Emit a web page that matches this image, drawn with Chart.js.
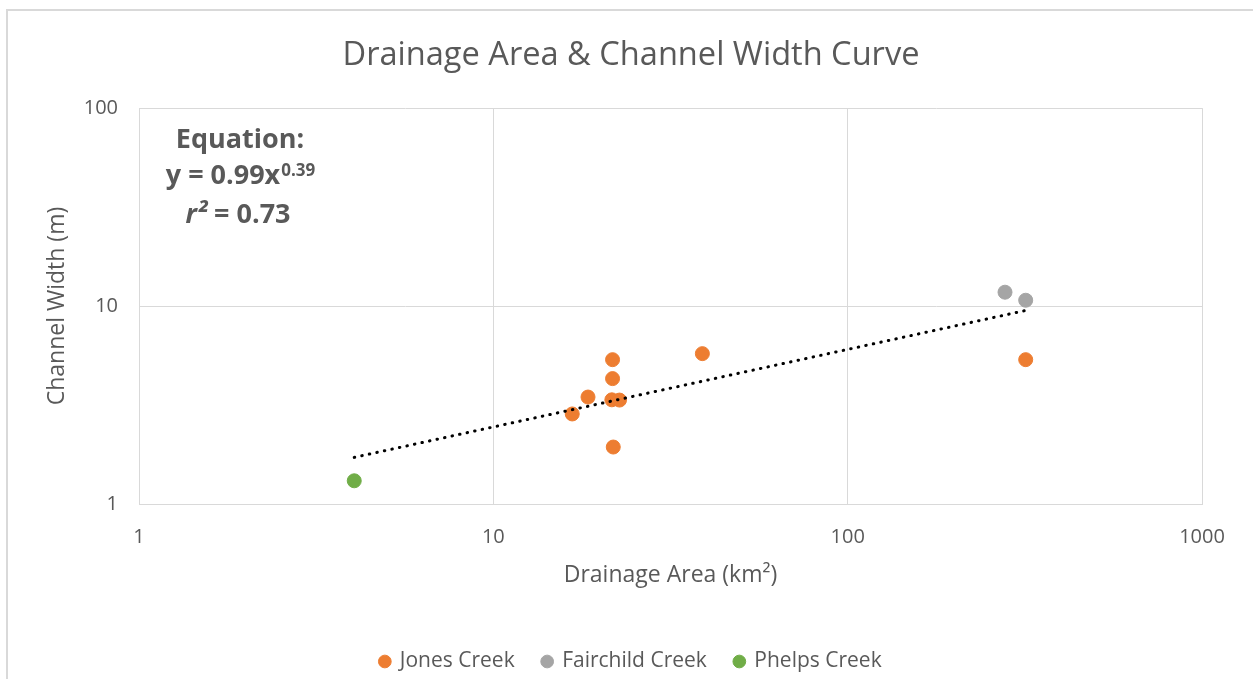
<!DOCTYPE html>
<html>
<head>
<meta charset="utf-8">
<title>Drainage Area & Channel Width Curve</title>
<script src="https://cdn.jsdelivr.net/npm/chart.js@4.4.1/dist/chart.umd.min.js"></script>
<style>
    html, body { margin: 0; padding: 0; background: #fff; overflow: hidden; }
    #frame {
        position: absolute; left: 6px; top: 9px;
        width: 1300px; height: 720px;
        border-top: 2px solid #d9d9d9; border-left: 2px solid #d9d9d9;
    }
    #chart { position: absolute; left: 0; top: 0; }
</style>
</head>
<body>
<div id="frame"></div>
<canvas id="chart" width="1253" height="679"></canvas>
<script>
// drainage area (km²) and channel width (m) per site
const jonesArea = [16.7, 18.5, 21.7, 21.7, 21.6, 22.7, 21.8, 38.9, 318];
const jonesWidth = [2.85, 3.47, 5.36, 4.30, 3.36, 3.35, 1.94, 5.75, 5.36];
const fairchildArea = [278, 318];
const fairchildWidth = [11.75, 10.7];
const phelpsArea = [4.05];
const phelpsWidth = [1.31];

// power trendline end points
const trendArea = [4.05, 318];
const trendWidth = [1.72, 9.5];

const xTicks = [1, 10, 100, 1000];
const yTicks = [1, 10, 100];

const FONT = "'Open Sans', sans-serif";
const TEXT = '#595959';
const GRID = '#d9d9d9';

const toPoints = (xs, ys) => xs.map((x, i) => ({ x, y: ys[i] }));

// equation box in the upper left of the plot
const equationLabel = {
    id: 'equationLabel',
    afterDraw(chart) {
        const ctx = chart.ctx;
        const cx = 240;
        const big = `bold 27px ${FONT}`;
        const small = `bold 17px ${FONT}`;
        ctx.save();
        ctx.fillStyle = TEXT;
        ctx.textBaseline = 'alphabetic';
        ctx.font = big;
        ctx.textAlign = 'center';
        ctx.fillText('Equation:', cx, 148);

        // y = 0.99x^0.39
        const base = 'y = 0.99x';
        const sup = '0.39';
        ctx.font = big;
        const wBase = ctx.measureText(base).width;
        ctx.font = small;
        const wSup = ctx.measureText(sup).width;
        let x = cx - (wBase + wSup) / 2;
        ctx.textAlign = 'left';
        ctx.font = big;
        ctx.fillText(base, x, 184);
        ctx.font = small;
        ctx.fillText(sup, x + wBase + 1, 176);

        // r² = 0.73
        ctx.font = `italic ${big}`;
        const wr = ctx.measureText('r²').width;
        ctx.font = big;
        const wRest = ctx.measureText(' = 0.73').width;
        x = cx - (wr + wRest) / 2 - 2;
        ctx.font = `italic ${big}`;
        ctx.fillText('r²', x, 223);
        ctx.font = big;
        ctx.fillText(' = 0.73', x + wr, 223);
        ctx.restore();
    }
};

new Chart(document.getElementById('chart'), {
    type: 'scatter',
    data: {
        datasets: [
            {
                label: 'Trendline',
                data: toPoints(trendArea, trendWidth),
                showLine: true,
                borderColor: '#000',
                borderWidth: 3,
                borderDash: [0.5, 7.2],
                borderCapStyle: 'round',
                pointRadius: 0,
                order: -1
            },
            {
                label: 'Jones Creek',
                data: toPoints(jonesArea, jonesWidth),
                backgroundColor: '#ED7D31',
                borderColor: '#ED7D31',
                pointRadius: 7
            },
            {
                label: 'Fairchild Creek',
                data: toPoints(fairchildArea, fairchildWidth),
                backgroundColor: '#A5A5A5',
                borderColor: '#A5A5A5',
                pointRadius: 7
            },
            {
                label: 'Phelps Creek',
                data: toPoints(phelpsArea, phelpsWidth),
                backgroundColor: '#70AD47',
                borderColor: '#70AD47',
                pointRadius: 7
            }
        ]
    },
    options: {
        responsive: false,
        animation: false,
        layout: { padding: { left: 60, right: 51, top: 0, bottom: -3 } },
        plugins: {
            title: {
                display: true,
                text: 'Drainage Area & Channel Width Curve',
                color: TEXT,
                font: { family: FONT, size: 32.6, weight: 'normal' },
                padding: { top: 36, bottom: 33 }
            },
            legend: {
                position: 'bottom',
                labels: {
                    color: TEXT,
                    font: { family: FONT, size: 21 },
                    usePointStyle: true,
                    pointStyle: 'circle',
                    boxWidth: 9,
                    boxHeight: 9,
                    padding: 28,
                    filter: item => item.text !== 'Trendline'
                }
            },
            tooltip: { enabled: false }
        },
        scales: {
            x: {
                type: 'logarithmic',
                min: 1,
                max: 1000,
                afterBuildTicks: axis => { axis.ticks = xTicks.map(v => ({ value: v })); },
                afterFit: axis => { axis.height = 119; },
                grid: { color: GRID, drawTicks: false },
                border: { color: GRID },
                ticks: {
                    color: TEXT,
                    font: { family: FONT, size: 20 },
                    padding: 21,
                    maxRotation: 0,
                    callback: v => String(v)
                },
                title: {
                    display: true,
                    text: 'Drainage Area (km²)',
                    color: TEXT,
                    font: { family: FONT, size: 23 },
                    padding: { top: 0, bottom: 34 }
                }
            },
            y: {
                type: 'logarithmic',
                min: 1,
                max: 100,
                afterBuildTicks: axis => { axis.ticks = yTicks.map(v => ({ value: v })); },
                afterFit: axis => { axis.width = 79; },
                grid: { color: GRID, drawTicks: false },
                border: { color: GRID },
                ticks: {
                    color: TEXT,
                    font: { family: FONT, size: 20 },
                    padding: 21,
                    callback: v => String(v)
                },
                title: {
                    display: true,
                    text: 'Channel Width (m)',
                    color: TEXT,
                    font: { family: FONT, size: 23 },
                    padding: { top: -16, bottom: 0 }
                }
            }
        }
    },
    plugins: [equationLabel]
});
</script>
</body>
</html>
